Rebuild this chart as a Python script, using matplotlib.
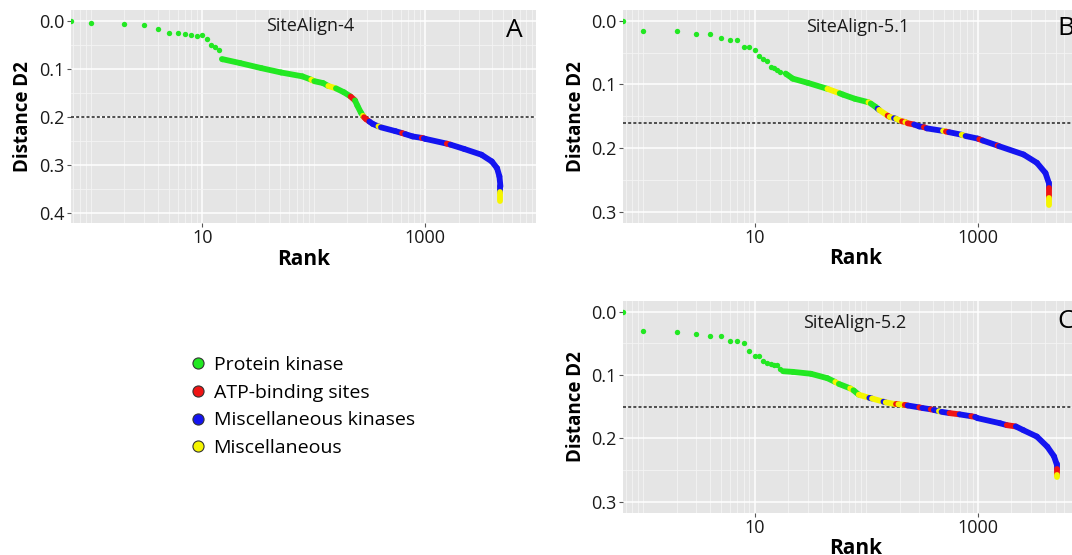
import matplotlib
matplotlib.use("Agg")
import matplotlib.pyplot as plt
from matplotlib.collections import LineCollection
from matplotlib.lines import Line2D
from matplotlib.ticker import LogLocator, NullFormatter

plt.rcParams['font.family'] = ['Open Sans', 'DejaVu Sans']

# colours of the four site classes
cat_names = ['Protein kinase', 'ATP-binding sites', 'Miscellaneous kinases', 'Miscellaneous']
cat_colors = {'P': '#22e822', 'A': '#f01414', 'K': '#1414f0', 'M': '#f5f500'}

# ---- panel A : SiteAlign-4 ----
a_dot_rank = [0.662, 1, 2, 3, 4, 5, 6, 7, 8, 9, 10, 11, 12, 13, 14, 15]
a_dot_dist = [0.000, 0.006, 0.007, 0.010, 0.017, 0.026, 0.026, 0.028, 0.030, 0.032,
              0.031, 0.039, 0.050, 0.054, 0.061, 0.080]
a_rank = [15, 22, 34, 51, 79, 95, 101, 121, 135, 158, 186, 214, 234, 246, 264, 276, 282,
          294, 315, 338, 380, 400, 540, 620, 660, 770, 930, 970, 1000, 1560, 1680, 2230,
          3190, 3950, 4400, 4620, 4720, 4720, 4720]
a_dist = [0.080, 0.0886, 0.099, 0.108, 0.116, 0.123, 0.126, 0.130, 0.136, 0.141, 0.149,
          0.158, 0.166, 0.177, 0.191, 0.198, 0.201, 0.205, 0.210, 0.215, 0.220, 0.222,
          0.230, 0.234, 0.236, 0.241, 0.244, 0.245, 0.246, 0.256, 0.258, 0.267, 0.279,
          0.293, 0.307, 0.324, 0.345, 0.356, 0.376]
a_cat = ['P', 'P', 'P', 'P', 'P', 'M', 'P', 'P', 'M', 'P', 'P', 'A', 'P', 'P', 'P', 'M',
         'A', 'A', 'K', 'K', 'M', 'K', 'K', 'A', 'K', 'K', 'A', 'K', 'K', 'A', 'K', 'K',
         'K', 'K', 'K', 'K', 'K', 'M', 'M']

# ---- panel B : SiteAlign-5.1 ----
b_dot_rank = [0.662, 1, 2, 3, 4, 5, 6, 7, 8, 9, 10, 11, 12, 13, 14, 15, 16, 17, 19]
b_dot_dist = [0.000, 0.0156, 0.0156, 0.021, 0.021, 0.0275, 0.030, 0.031, 0.042, 0.042,
              0.046, 0.055, 0.060, 0.064, 0.072, 0.074, 0.077, 0.081, 0.083]
b_rank = [19, 22, 30, 45, 58, 62, 79, 105, 110, 121, 127, 131, 156, 163, 178, 186, 210,
          225, 236, 270, 300, 330, 350, 490, 520, 555, 720, 780, 1000, 1035, 1110, 1510,
          1560, 2580, 3400, 4060, 4340, 4340, 4340, 4340]
b_dist = [0.083, 0.091, 0.0976, 0.107, 0.114, 0.116, 0.1225, 0.128, 0.130, 0.135, 0.138,
          0.140, 0.149, 0.151, 0.153, 0.154, 0.158, 0.159, 0.161, 0.163, 0.166, 0.167,
          0.169, 0.173, 0.174, 0.175, 0.179, 0.181, 0.185, 0.186, 0.188, 0.196, 0.197,
          0.210, 0.223, 0.239, 0.254, 0.262, 0.279, 0.290]
b_cat = ['P', 'P', 'P', 'M', 'P', 'P', 'P', 'M', 'P', 'P', 'K', 'M', 'A', 'M', 'K', 'M',
         'A', 'M', 'A', 'K', 'K', 'A', 'K', 'M', 'A', 'K', 'M', 'K', 'K', 'A', 'K', 'A',
         'K', 'K', 'K', 'K', 'K', 'A', 'M', 'M']

# ---- panel C : SiteAlign-5.2 ----
c_dot_rank = [0.662, 1, 2, 3, 4, 5, 6, 7, 8, 9, 10, 11, 12, 13, 14, 15, 16, 17]
c_dot_dist = [0.000, 0.030, 0.0327, 0.0353, 0.0379, 0.0379, 0.0467, 0.0467, 0.0493,
              0.0623, 0.070, 0.070, 0.078, 0.081, 0.083, 0.0846, 0.0846, 0.0898]
c_rank = [18, 22, 32, 45, 53, 57, 72, 77, 86, 107, 113, 143, 150, 185, 195, 222, 236, 300,
          320, 380, 405, 450, 475, 560, 690, 880, 950, 1000, 1590, 1830, 2200, 2580, 3400,
          4220, 4840, 5130, 5130, 5130, 5130]
c_dist = [0.094, 0.095, 0.098, 0.105, 0.111, 0.114, 0.121, 0.124, 0.131, 0.136, 0.137,
          0.142, 0.143, 0.146, 0.146, 0.147, 0.148, 0.151, 0.152, 0.154, 0.155, 0.157,
          0.158, 0.160, 0.162, 0.165, 0.166, 0.168, 0.176, 0.179, 0.181, 0.187, 0.197,
          0.213, 0.228, 0.241, 0.248, 0.257, 0.260]
c_cat = ['P', 'P', 'P', 'P', 'M', 'P', 'M', 'P', 'M', 'K', 'M', 'K', 'M', 'A', 'M', 'A',
         'K', 'A', 'K', 'A', 'K', 'M', 'K', 'A', 'K', 'A', 'K', 'K', 'K', 'A', 'K', 'K',
         'K', 'K', 'K', 'K', 'A', 'M', 'M']


def draw_panel(ax, dot_rank, dot_dist, rank, dist, cat, cutoff, ylim, yticks,
               title, title_xy, letter, letter_xy):
    ax.set_facecolor('#e5e5e5')
    for s in ax.spines.values():
        s.set_visible(False)
    ax.set_xscale('log')
    ax.set_xlim(10 ** -0.18, 10 ** 3.99)
    ax.set_ylim(*ylim)
    ax.set_xticks([10, 1000], labels=['10', '1000'])
    ax.xaxis.set_minor_locator(LogLocator(base=10, subs=range(1, 10), numticks=20))
    ax.xaxis.set_minor_formatter(NullFormatter())
    ax.set_yticks(yticks, labels=['%.1f' % v for v in yticks])
    ax.set_yticks([v + 0.05 for v in yticks[:-1]], minor=True)
    ax.tick_params(which='major', length=3, width=0.8, color='#555555',
                   labelsize=13, labelcolor='#1a1a1a', pad=1.5)
    ax.tick_params(which='minor', length=0)
    ax.grid(which='major', color='white', lw=1.1)
    ax.grid(which='minor', color='#f4f4f4', lw=0.6)
    ax.set_axisbelow(True)

    ax.axhline(cutoff, color='#333333', lw=1.2, ls=(0, (1.8, 1.3)), zorder=2)

    ax.scatter(dot_rank, dot_dist, s=15, color=cat_colors['P'], linewidths=0, zorder=3)
    segs = [[(rank[i], dist[i]), (rank[i + 1], dist[i + 1])] for i in range(len(rank) - 1)]
    cols = [cat_colors[c] for c in cat[:-1]]
    ax.add_collection(LineCollection(segs, colors=cols, linewidths=4.2,
                                     capstyle='round', zorder=3))

    ax.text(title_xy[0], title_xy[1], title, transform=ax.transAxes,
            ha='center', va='center', fontsize=13, color='#1a1a1a')
    ax.text(letter_xy[0], letter_xy[1], letter, transform=ax.transAxes,
            ha='center', va='center', fontsize=19, color='black')
    ax.set_xlabel('Rank', fontsize=15, fontweight='bold', labelpad=1)
    ax.set_ylabel('Distance D2', fontsize=13.5, fontweight='bold', labelpad=4)


W, H = 1072, 555
fig = plt.figure(figsize=(W / 100, H / 100), dpi=100)

axA = fig.add_axes([70.7 / W, 1 - 223 / H, 465 / W, 213 / H])
axB = fig.add_axes([623 / W, 1 - 222.7 / H, 465 / W, 212.7 / H])
axC = fig.add_axes([623 / W, 1 - 512.7 / H, 465 / W, 211.7 / H])

draw_panel(axA, a_dot_rank, a_dot_dist, a_rank, a_dist, a_cat, 0.2, (0.421, -0.022),
           [0.0, 0.1, 0.2, 0.3, 0.4], 'SiteAlign-4', (0.515, 0.925), 'A', (0.955, 0.906))
draw_panel(axB, b_dot_rank, b_dot_dist, b_rank, b_dist, b_cat, 0.16, (0.317, -0.0167),
           [0.0, 0.1, 0.2, 0.3], 'SiteAlign-5.1', (0.505, 0.922), 'B', (0.953, 0.912))
draw_panel(axC, c_dot_rank, c_dot_dist, c_rank, c_dist, c_cat, 0.15, (0.317, -0.0167),
           [0.0, 0.1, 0.2, 0.3], 'SiteAlign-5.2', (0.499, 0.898), 'C', (0.953, 0.902))

handles = [Line2D([], [], ls='', marker='o', markersize=8, markerfacecolor=cat_colors[k],
                  markeredgecolor='#333333', markeredgewidth=0.8)
           for k in ['P', 'A', 'K', 'M']]
fig.legend(handles, cat_names, loc='upper left', bbox_to_anchor=(188.3 / W, 1 - 356 / H),
           frameon=False, fontsize=14, handlelength=1.0, handletextpad=0.3,
           labelspacing=0.5, borderpad=0, borderaxespad=0)

fig.savefig('out.png', dpi=100)
